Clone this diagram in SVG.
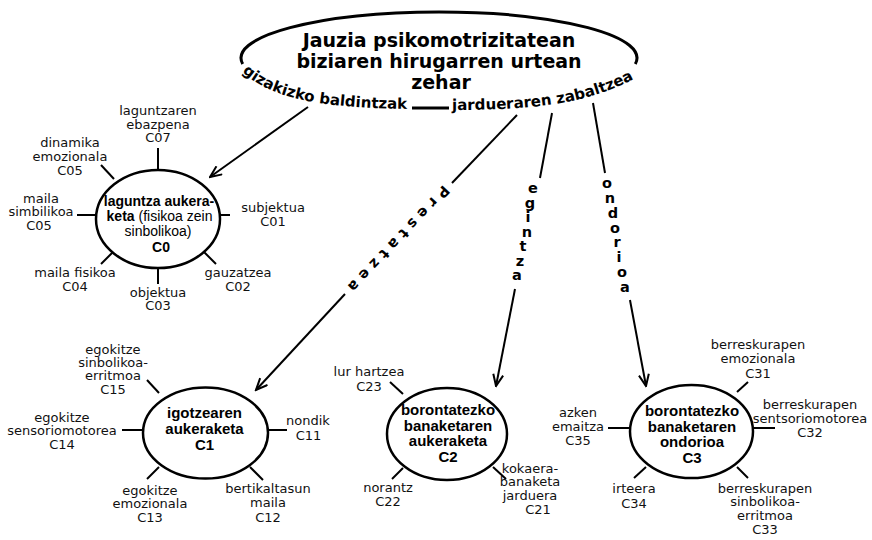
<svg xmlns="http://www.w3.org/2000/svg" width="872" height="540" viewBox="0 0 872 540">
<style>
.t { font-family: "DejaVu Sans", Verdana, sans-serif; font-weight: bold; fill: #000; }
.title { font-size: 19px; text-anchor: middle; }
.curve { font-size: 15px; }
.vert { font-size: 14.5px; text-anchor: middle; }
.lbl { font-family: "DejaVu Sans", Verdana, sans-serif; font-size: 13px; fill: #111; text-anchor: middle; }
.in { font-family: "Liberation Sans", Arial, sans-serif; font-size: 15px; font-weight: bold; fill: #000; text-anchor: middle; }
.in0 { font-family: "Liberation Sans", Arial, sans-serif; font-size: 14px; fill: #000; text-anchor: middle; }
.b { font-weight: bold; }
.node { fill: #fff; stroke: #000; stroke-width: 2.5; }
.spoke { stroke: #000; stroke-width: 2; fill: none; }
.conn { stroke: #000; stroke-width: 2; fill: none; }
.top { stroke: #000; stroke-width: 3; fill: none; }
</style>
<defs>
<marker id="ah" markerUnits="userSpaceOnUse" markerWidth="14" markerHeight="12" viewBox="0 0 14 12" refX="12.5" refY="6" orient="auto">
<path d="M1,1 L12.5,6 L1,11" fill="none" stroke="#000" stroke-width="2"/>
</marker>
<path id="arc1" d="M 240,70 C 268,96 310,108 410,109"/>
<path id="arc2" d="M 452,110 C 540,110 590,103 640,76"/>
</defs>
<rect width="872" height="540" fill="#fff"/>

<g id="connectors">
<line class="conn" x1="308" y1="107" x2="210" y2="177" marker-end="url(#ah)"/>
<line class="conn" x1="517" y1="115" x2="452" y2="183"/>
<line class="conn" x1="345" y1="294" x2="256" y2="390" marker-end="url(#ah)"/>
<text class="t vert" font-size="13" transform="rotate(133.5 398 238)" x="398" y="242" textLength="140" lengthAdjust="spacing">Prestatzea</text>
<line class="conn" x1="552" y1="113" x2="540" y2="178"/>
<line class="conn" x1="515" y1="289" x2="496" y2="386" marker-end="url(#ah)"/>
<text class="t vert" x="533 530 528 527 523 520 517" y="193 207.5 222 236.5 251 265.5 280">egintza</text>
<line class="conn" x1="593" y1="103" x2="605" y2="173"/>
<line class="conn" x1="630" y1="300" x2="646" y2="386" marker-end="url(#ah)"/>
<text class="t vert" x="607 610 613 615 617 619 622 625" y="188 203 218 232.5 247 261.5 276.5 291.5">ondorioa</text>
</g>

<g id="title">
<path class="top" d="M 242.7,64 A 198,46 0 1 1 635.3,64"/>
<line class="top" x1="412" y1="108" x2="449" y2="108"/>
<text class="t title" x="439" y="47">Jauzia psikomotrizitatean</text>
<text class="t title" x="439" y="68">biziaren hirugarren urtean</text>
<text class="t title" x="441" y="89">zehar</text>
<text class="t curve"><textPath href="#arc1" startOffset="3">gizakizko baldintzak</textPath></text>
<text class="t curve"><textPath href="#arc2" startOffset="0">jardueraren zabaltzea</textPath></text>
</g>

<g id="C0">
<line class="spoke" x1="158" y1="148" x2="158" y2="170"/>
<line class="spoke" x1="158" y1="268" x2="158" y2="284"/>
<line class="spoke" x1="77" y1="215" x2="96" y2="215"/>
<line class="spoke" x1="220" y1="215" x2="230" y2="215"/>
<line class="spoke" x1="101" y1="165" x2="114" y2="179"/>
<line class="spoke" x1="101" y1="264" x2="114" y2="251"/>
<line class="spoke" x1="203" y1="251" x2="216" y2="264"/>
<ellipse class="node" cx="158" cy="219" rx="62" ry="49"/>
<text class="in0 b" x="159" y="206">laguntza aukera-</text>
<text class="in0" x="159.5" y="221"><tspan class="b">keta</tspan> (fisikoa zein</text>
<text class="in0" x="158" y="235.5">sinbolikoa)</text>
<text class="in0 b" x="161" y="252">C0</text>
<text class="lbl" x="158" y="115">laguntzaren</text>
<text class="lbl" x="158" y="128.5">ebazpena</text>
<text class="lbl" x="158" y="142">C07</text>
<text class="lbl" x="70" y="147">dinamika</text>
<text class="lbl" x="70" y="161">emozionala</text>
<text class="lbl" x="70" y="175">C05</text>
<text class="lbl" x="41" y="203">maila</text>
<text class="lbl" x="41" y="216">simbilikoa</text>
<text class="lbl" x="39" y="230">C05</text>
<text class="lbl" x="273" y="212">subjektua</text>
<text class="lbl" x="273" y="226">C01</text>
<text class="lbl" x="75" y="277">maila fisikoa</text>
<text class="lbl" x="75" y="291">C04</text>
<text class="lbl" x="158" y="297">objektua</text>
<text class="lbl" x="158" y="310">C03</text>
<text class="lbl" x="238" y="277">gauzatzea</text>
<text class="lbl" x="238" y="291">C02</text>
</g>

<g id="C1">
<line class="spoke" x1="122" y1="430" x2="143" y2="430"/>
<line class="spoke" x1="268" y1="430" x2="287" y2="430"/>
<line class="spoke" x1="147" y1="380" x2="159" y2="393"/>
<line class="spoke" x1="147" y1="479" x2="159" y2="467"/>
<line class="spoke" x1="250" y1="467" x2="263" y2="480"/>
<ellipse class="node" cx="205.5" cy="433" rx="62.5" ry="45.5"/>
<text class="in" x="204.5" y="418">igotzearen</text>
<text class="in" x="204.5" y="434">aukeraketa</text>
<text class="in" x="204.5" y="450">C1</text>
<text class="lbl" x="113" y="354">egokitze</text>
<text class="lbl" x="113" y="367">sinbolikoa-</text>
<text class="lbl" x="113" y="380">erritmoa</text>
<text class="lbl" x="113" y="394">C15</text>
<text class="lbl" x="62" y="421.5">egokitze</text>
<text class="lbl" x="62" y="435">sensoriomotorea</text>
<text class="lbl" x="62" y="449">C14</text>
<text class="lbl" x="308" y="425">nondik</text>
<text class="lbl" x="308.5" y="440">C11</text>
<text class="lbl" x="150" y="495">egokitze</text>
<text class="lbl" x="150" y="508">emozionala</text>
<text class="lbl" x="150" y="522">C13</text>
<text class="lbl" x="268" y="493">bertikaltasun</text>
<text class="lbl" x="268" y="507">maila</text>
<text class="lbl" x="268" y="522">C12</text>
</g>

<g id="C2">
<line class="spoke" x1="390" y1="382" x2="403" y2="394"/>
<line class="spoke" x1="392" y1="479" x2="403" y2="468"/>
<line class="spoke" x1="493" y1="467" x2="506" y2="479"/>
<ellipse class="node" cx="447" cy="434" rx="60" ry="46"/>
<text class="in" x="448" y="415">borontatezko</text>
<text class="in" x="448" y="430.5">banaketaren</text>
<text class="in" x="448" y="446">aukeraketa</text>
<text class="in" x="448" y="461.5">C2</text>
<text class="lbl" x="369" y="376">lur hartzea</text>
<text class="lbl" x="369" y="390.5">C23</text>
<text class="lbl" x="388" y="491.5">norantz</text>
<text class="lbl" x="388" y="506">C22</text>
<text class="lbl" x="530" y="472.5">kokaera-</text>
<text class="lbl" x="530" y="486">banaketa</text>
<text class="lbl" x="530" y="500">jarduera</text>
<text class="lbl" x="538" y="514">C21</text>
</g>

<g id="C3">
<line class="spoke" x1="608" y1="428" x2="630" y2="428"/>
<line class="spoke" x1="753" y1="428" x2="775" y2="428"/>
<line class="spoke" x1="737" y1="392" x2="748" y2="382"/>
<line class="spoke" x1="634" y1="478" x2="646" y2="467"/>
<line class="spoke" x1="737" y1="467" x2="748" y2="478"/>
<ellipse class="node" cx="691.5" cy="431.5" rx="61.5" ry="46.5"/>
<text class="in" x="692" y="416">borontatezko</text>
<text class="in" x="692" y="431.5">banaketaren</text>
<text class="in" x="692" y="447">ondorioa</text>
<text class="in" x="692" y="462.5">C3</text>
<text class="lbl" x="758" y="349">berreskurapen</text>
<text class="lbl" x="758" y="363">emozionala</text>
<text class="lbl" x="758" y="378">C31</text>
<text class="lbl" x="810" y="409">berreskurapen</text>
<text class="lbl" x="810" y="422.5">sentsoriomotorea</text>
<text class="lbl" x="810" y="436.5">C32</text>
<text class="lbl" x="578" y="417">azken</text>
<text class="lbl" x="578" y="430.5">emaitza</text>
<text class="lbl" x="578" y="445">C35</text>
<text class="lbl" x="634" y="492.5">irteera</text>
<text class="lbl" x="634" y="507.5">C34</text>
<text class="lbl" x="765" y="492.5">berreskurapen</text>
<text class="lbl" x="765" y="506">sinbolikoa-</text>
<text class="lbl" x="765" y="519.5">erritmoa</text>
<text class="lbl" x="765" y="534">C33</text>
</g>
</svg>
